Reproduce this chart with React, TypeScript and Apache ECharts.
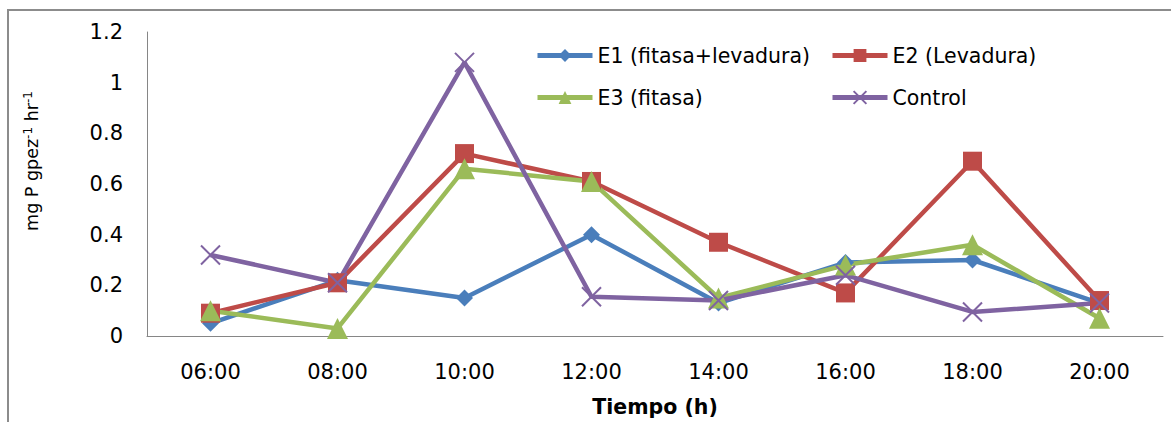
import React, { useEffect, useRef } from "react";
import * as echarts from "echarts";

const categories = ["06:00", "08:00", "10:00", "12:00", "14:00", "16:00", "18:00", "20:00"];
const e1 = [0.05, 0.22, 0.15, 0.4, 0.13, 0.29, 0.3, 0.13];
const e2 = [0.09, 0.21, 0.72, 0.61, 0.37, 0.17, 0.69, 0.14];
const e3 = [0.1, 0.03, 0.66, 0.61, 0.15, 0.28, 0.36, 0.07];
const control = [0.32, 0.21, 1.08, 0.155, 0.14, 0.24, 0.095, 0.13];
const yTicks = { min: 0, max: 1.2, interval: 0.2 };

const FONT = "'DejaVu Sans', sans-serif";
const CROSS = "path://M0,0L10,10M10,0L0,10";

export default function App() {
  const ref = useRef<HTMLDivElement>(null);
  useEffect(() => {
    if (!ref.current) return;
    const chart = echarts.init(ref.current, null, { renderer: "svg" });
    const mk = (name: string, data: number[], color: string, symbol: string, size: number, extra: any = {}) => ({
      name,
      type: "line",
      data,
      symbol,
      symbolSize: size,
      lineStyle: { color, width: 4.5 },
      itemStyle: { color, ...extra },
      emphasis: { disabled: true },
    });
    const legendBase = {
      itemWidth: 55,
      itemHeight: 16,
      itemGap: 0,
      lineStyle: { width: 5 },
      textStyle: { fontFamily: FONT, fontSize: 20.5, color: "#000" },
      selectedMode: false,
    };
    chart.setOption({
      animation: false,
      graphic: [
        {
          type: "rect",
          shape: { x: 8, y: 10, width: 1300, height: 600 },
          style: { fill: "none", stroke: "#8c8c8c", lineWidth: 2 },
        },
        {
          type: "text",
          x: 32,
          y: 161,
          rotation: Math.PI / 2,
          style: {
            text: "mg P gpez{sup|-1} hr{sup|-1}",
            fontFamily: FONT,
            fontSize: 17.5,
            fill: "#000",
            align: "center",
            verticalAlign: "middle",
            rich: {
              sup: { fontFamily: FONT, fontSize: 12, fill: "#000", verticalAlign: "top", padding: [0, 0, 8, 0] },
            },
          },
        },
      ],
      legend: [
        { ...legendBase, left: 530, top: 40, data: ["E1 (fitasa+levadura)"] },
        { ...legendBase, left: 825, top: 40, data: ["E2 (Levadura)"] },
        { ...legendBase, left: 530, top: 82, data: ["E3 (fitasa)"] },
        { ...legendBase, left: 825, top: 82, data: ["Control"] },
      ],
      grid: { left: 147, right: 8, top: 32, bottom: 86, containLabel: false },
      xAxis: {
        type: "category",
        data: categories,
        boundaryGap: true,
        axisLine: { lineStyle: { color: "#868686", width: 1 } },
        axisTick: { show: false },
        axisLabel: { fontFamily: FONT, fontSize: 21, color: "#000", margin: 25 },
        name: "Tiempo (h)",
        nameLocation: "middle",
        nameGap: 60,
        nameTextStyle: { fontFamily: FONT, fontSize: 20.5, fontWeight: "bold", color: "#000" },
      },
      yAxis: {
        type: "value",
        min: yTicks.min,
        max: yTicks.max,
        interval: yTicks.interval,
        splitLine: { show: false },
        axisLine: { show: true, lineStyle: { color: "#868686", width: 1 } },
        axisTick: { show: false },
        axisLabel: { fontFamily: FONT, fontSize: 21, color: "#000", margin: 24 },
      },
      series: [
        mk("E1 (fitasa+levadura)", e1, "#4A7EBB", "diamond", 17),
        mk("E2 (Levadura)", e2, "#BE4B48", "rect", 19),
        mk("E3 (fitasa)", e3, "#9BBB59", "triangle", 21),
        mk("Control", control, "#7F63A1", CROSS, 19, { borderColor: "#7F63A1", borderWidth: 2 }),
      ],
    });
    return () => chart.dispose();
  }, []);
  return (
    <div
      ref={ref}
      style={{ position: "absolute", left: 0, top: 0, width: 1171, height: 422, background: "#fff" }}
    />
  );
}
